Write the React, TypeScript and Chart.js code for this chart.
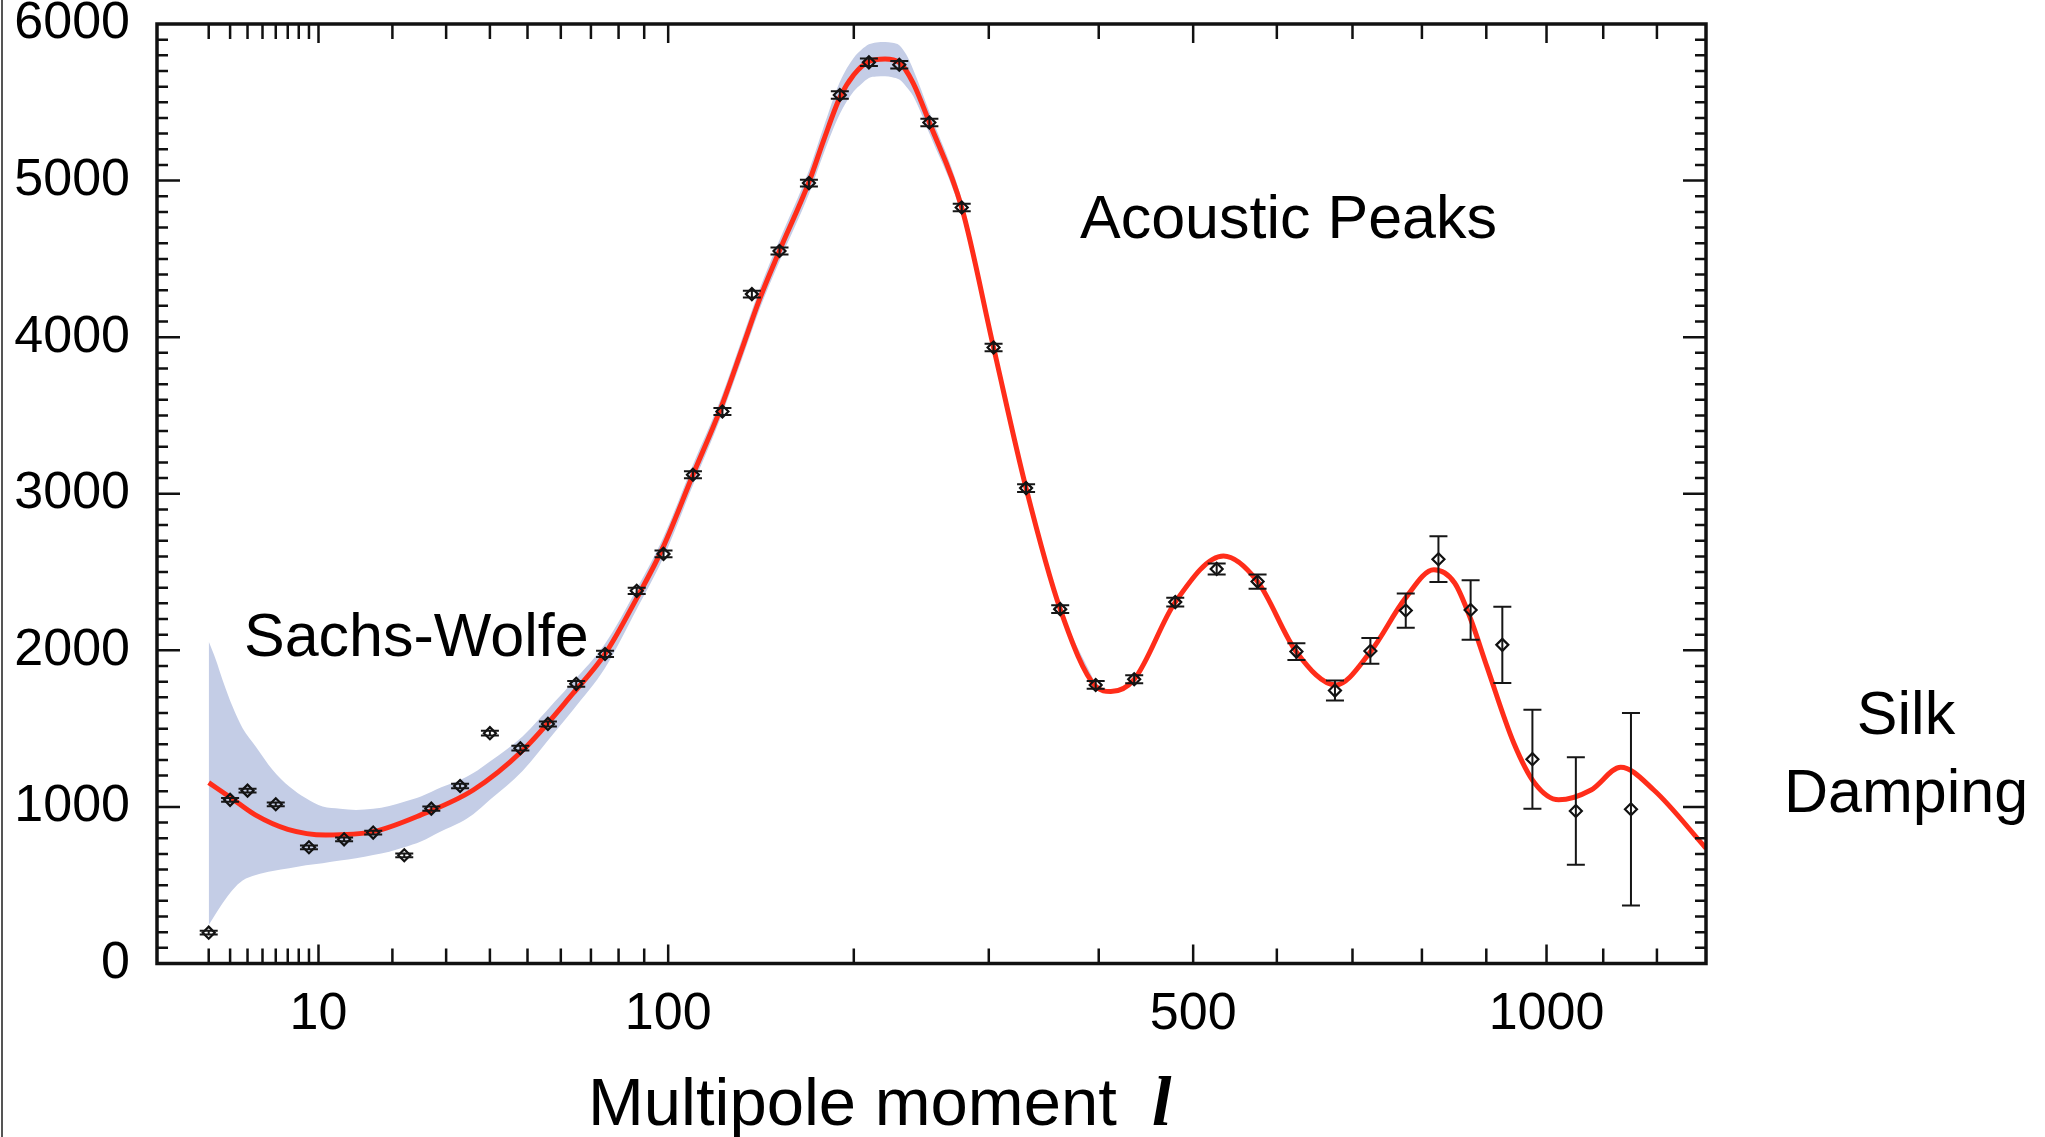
import React, { useEffect, useRef } from "react";
import { Chart, registerables } from "chart.js";

Chart.register(...registerables);

// x axis is drawn on a power-law stretched multipole scale: t = l^0.4
const X_POWER = 0.4;
const X_MIN_L = 0.5;
const X_MAX_L = 1296;
const Y_MIN = 0;
const Y_MAX = 6000;

// Tick labels
const xTickValues = [10, 100, 500, 1000];
const xTickLabels = ["10", "100", "500", "1000"];
const xMinorTicks = [2, 3, 4, 5, 6, 7, 8, 9, 20, 30, 40, 50, 60, 70, 80, 90, 200, 300, 400, 600, 700, 800, 900, 1100, 1200];
const yTickStep = 1000;
const yMinorStep = 100;

// Measured data points (multipole l, power, error)
const dataL = [2, 3, 4, 6, 9, 13, 17, 22, 27, 33, 40, 48, 56, 65, 75, 87, 98, 111, 125, 140, 155, 172, 191, 210, 231, 253, 278, 304, 332, 363, 397, 436, 480, 527, 576, 625, 676, 725, 776, 825, 875, 926, 976, 1051, 1151];
const dataV = [197, 1045, 1104, 1017, 742, 793, 836, 691, 989, 1134, 1471, 1375, 1530, 1786, 1977, 2380, 2616, 3121, 3525, 4275, 4550, 4984, 5547, 5755, 5740, 5371, 4828, 3934, 3036, 2263, 1779, 1815, 2308, 2520, 2439, 1992, 1743, 1996, 2254, 2582, 2258, 2035, 1305, 974, 985];
const dataErr = [12, 12, 12, 12, 12, 12, 12, 12, 14, 14, 15, 15, 16, 18, 20, 20, 22, 22, 22, 22, 22, 22, 24, 24, 24, 24, 24, 24, 25, 25, 25, 26, 28, 35, 46, 53, 64, 82, 109, 146, 190, 243, 316, 343, 614];

// Theory curve (red)
const curveL = [2, 3, 4.5, 7, 10.8, 17, 25, 36, 48.6, 64, 75, 87, 98, 111, 124, 135, 144, 155, 172, 181, 191, 200, 210, 221, 231, 241, 253, 278, 304, 332, 363, 397, 412, 436, 480, 535, 576, 625, 677, 725, 775, 818, 850, 875, 901, 945, 980, 1021, 1078, 1132, 1194, 1296];
const curveV = [1155, 1062, 949, 857, 821, 842, 949, 1108, 1360, 1726, 1977, 2332, 2664, 3121, 3540, 3930, 4240, 4552, 4990, 5260, 5530, 5676, 5761, 5777, 5755, 5623, 5371, 4828, 3934, 3036, 2263, 1770, 1737, 1815, 2308, 2603, 2440, 1990, 1779, 1990, 2330, 2514, 2430, 2200, 1896, 1407, 1151, 1045, 1108, 1253, 1108, 736];

// Cosmic variance band (blue)
const bandL = [2, 2.31, 2.62, 3.13, 3.7, 4.54, 5.76, 7.13, 8.7, 10.45, 12.5, 14.56, 17, 19.5, 22, 25, 29, 33, 36, 40, 48.6, 58, 64, 75, 87, 98, 111, 124, 135, 144, 155, 172, 181, 191, 200, 205, 210, 215, 221, 226, 231, 236, 241, 253, 278, 304, 332, 363, 397];
const bandUpper = [2056, 1939, 1811, 1641, 1503, 1385, 1236, 1130, 1055, 1002, 988, 981, 988, 1006, 1033, 1066, 1125, 1172, 1216, 1290, 1450, 1670, 1801, 2042, 2392, 2724, 3185, 3600, 3995, 4305, 4620, 5065, 5345, 5630, 5785, 5835, 5870, 5882, 5885, 5880, 5865, 5805, 5710, 5440, 4880, 3975, 3066, 2283, 1785];
const bandLower = [246, 320, 385, 470, 530, 565, 590, 608, 628, 640, 657, 672, 693, 714, 742, 779, 845, 900, 953, 1045, 1230, 1475, 1621, 1887, 2262, 2594, 3055, 3480, 3865, 4175, 4485, 4915, 5175, 5425, 5570, 5617, 5655, 5664, 5667, 5660, 5645, 5600, 5540, 5300, 4775, 3893, 3006, 2243, 1755];

const xTitle = "Multipole moment";
const xTitleSymbol = "l";
const annotations = [
  { text: "Acoustic Peaks", x: 1080, y: 238, align: "left" as CanvasTextAlign },
  { text: "Sachs-Wolfe", x: 244, y: 656, align: "left" as CanvasTextAlign },
  { text: "Silk", x: 1906, y: 734, align: "center" as CanvasTextAlign },
  { text: "Damping", x: 1906, y: 812, align: "center" as CanvasTextAlign },
];

const tr = (l: number) => Math.pow(l, X_POWER);
const SANS = "'Liberation Sans', Arial, Helvetica, sans-serif";

const decorPlugin = {
  id: "decor",
  afterDatasetsDraw(chart: any) {
    const ctx = chart.ctx;
    const xs = chart.scales.x;
    const ys = chart.scales.y;
    ctx.save();
    ctx.strokeStyle = "#161616";
    ctx.lineWidth = 2;
    for (let i = 0; i < dataL.length; i++) {
      const px = xs.getPixelForValue(tr(dataL[i]));
      const top = ys.getPixelForValue(dataV[i] + dataErr[i]);
      const bot = ys.getPixelForValue(dataV[i] - dataErr[i]);
      ctx.beginPath();
      ctx.moveTo(px, top);
      ctx.lineTo(px, bot);
      ctx.moveTo(px - 9, top);
      ctx.lineTo(px + 9, top);
      ctx.moveTo(px - 9, bot);
      ctx.lineTo(px + 9, bot);
      ctx.stroke();
    }
    ctx.restore();
  },
  afterDraw(chart: any) {
    const ctx = chart.ctx;
    const { left, right, top, bottom } = chart.chartArea;
    const xs = chart.scales.x;
    const ys = chart.scales.y;
    ctx.save();
    // page border on the left
    ctx.strokeStyle = "#555";
    ctx.lineWidth = 2;
    ctx.beginPath();
    ctx.moveTo(2, 0);
    ctx.lineTo(2, chart.height);
    ctx.stroke();

    // ticks (inward, all four sides)
    ctx.strokeStyle = "#111";
    ctx.lineWidth = 2.5;
    ctx.beginPath();
    const xTick = (l: number, len: number) => {
      const px = xs.getPixelForValue(tr(l));
      ctx.moveTo(px, bottom);
      ctx.lineTo(px, bottom - len);
      ctx.moveTo(px, top);
      ctx.lineTo(px, top + len);
    };
    xMinorTicks.forEach((l) => xTick(l, 15));
    xTickValues.forEach((l) => xTick(l, 19));
    for (let v = Y_MIN + yMinorStep; v < Y_MAX; v += yMinorStep) {
      const py = ys.getPixelForValue(v);
      const len = v % yTickStep === 0 ? 23 : 11;
      ctx.moveTo(left, py);
      ctx.lineTo(left + len, py);
      ctx.moveTo(right, py);
      ctx.lineTo(right - len, py);
    }
    ctx.stroke();

    // frame
    ctx.lineWidth = 3.5;
    ctx.strokeStyle = "#111";
    ctx.strokeRect(left, top, right - left, bottom - top);

    // annotations
    ctx.fillStyle = "#000";
    ctx.textBaseline = "alphabetic";
    ctx.font = `61px ${SANS}`;
    annotations.forEach((a) => {
      ctx.textAlign = a.align;
      ctx.fillText(a.text, a.x, a.y);
    });

    // axis title
    ctx.textAlign = "left";
    ctx.font = `67px ${SANS}`;
    ctx.fillText(xTitle, 588, 1125);
    ctx.font = `italic bold 70px 'Liberation Serif', 'Times New Roman', serif`;
    ctx.fillText(xTitleSymbol, 1152, 1125);
    ctx.restore();
  },
};

export default function App() {
  const canvasRef = useRef<HTMLCanvasElement | null>(null);

  useEffect(() => {
    document.body.style.margin = "0";
    const canvas = canvasRef.current;
    if (!canvas) return;

    const chart = new Chart(canvas, {
      type: "line",
      data: {
        datasets: [
          {
            label: "data",
            data: dataL.map((l, i) => ({ x: tr(l), y: dataV[i] })),
            showLine: false,
            pointStyle: "rectRot",
            pointRadius: 6,
            pointBorderWidth: 2.2,
            pointBorderColor: "#111",
            pointBackgroundColor: "rgba(0,0,0,0)",
            order: 0,
          } as any,
          {
            label: "theory",
            data: curveL.map((l, i) => ({ x: tr(l), y: curveV[i] })),
            borderColor: "#ff2d1a",
            borderWidth: 5,
            pointRadius: 0,
            cubicInterpolationMode: "monotone",
            fill: false,
            order: 1,
          } as any,
          {
            label: "band upper",
            data: bandL.map((l, i) => ({ x: tr(l), y: bandUpper[i] })),
            borderWidth: 0,
            borderColor: "rgba(0,0,0,0)",
            backgroundColor: "#c4cde6",
            pointRadius: 0,
            cubicInterpolationMode: "monotone",
            fill: "+1",
            order: 2,
          } as any,
          {
            label: "band lower",
            data: bandL.map((l, i) => ({ x: tr(l), y: bandLower[i] })),
            borderWidth: 0,
            borderColor: "rgba(0,0,0,0)",
            pointRadius: 0,
            cubicInterpolationMode: "monotone",
            fill: false,
            order: 3,
          } as any,
        ],
      },
      options: {
        responsive: false,
        devicePixelRatio: 1,
        animation: false,
        layout: { padding: { top: 24, right: 339, left: 0, bottom: 0 } },
        plugins: {
          legend: { display: false },
          tooltip: { enabled: false },
        },
        scales: {
          x: {
            type: "linear",
            min: tr(X_MIN_L),
            max: tr(X_MAX_L),
            grid: { display: false, drawTicks: false },
            border: { display: false },
            afterBuildTicks: (scale: any) => {
              scale.ticks = xTickValues.map((l) => ({ value: tr(l) }));
            },
            afterFit: (scale: any) => {
              scale.height = 173.5;
              scale.paddingLeft = 0;
              scale.paddingRight = 0;
            },
            ticks: {
              autoSkip: false,
              maxRotation: 0,
              padding: 20,
              color: "#000",
              font: { family: SANS, size: 52 },
              callback: (_v: any, i: number) => xTickLabels[i],
            },
          },
          y: {
            type: "linear",
            min: Y_MIN,
            max: Y_MAX,
            grid: { display: false, drawTicks: false },
            border: { display: false },
            afterFit: (scale: any) => {
              scale.width = 157;
              scale.paddingTop = 0;
              scale.paddingBottom = 0;
            },
            ticks: {
              stepSize: yTickStep,
              padding: 27,
              color: "#000",
              font: { family: SANS, size: 52 },
              callback: (v: any) => String(v),
            },
          },
        },
      },
      plugins: [decorPlugin],
    } as any);

    return () => chart.destroy();
  }, []);

  return (
    <div style={{ position: "fixed", left: 0, top: 0, width: 2045, height: 1137, background: "#fff" }}>
      <canvas ref={canvasRef} width={2045} height={1137} style={{ display: "block" }} />
    </div>
  );
}
